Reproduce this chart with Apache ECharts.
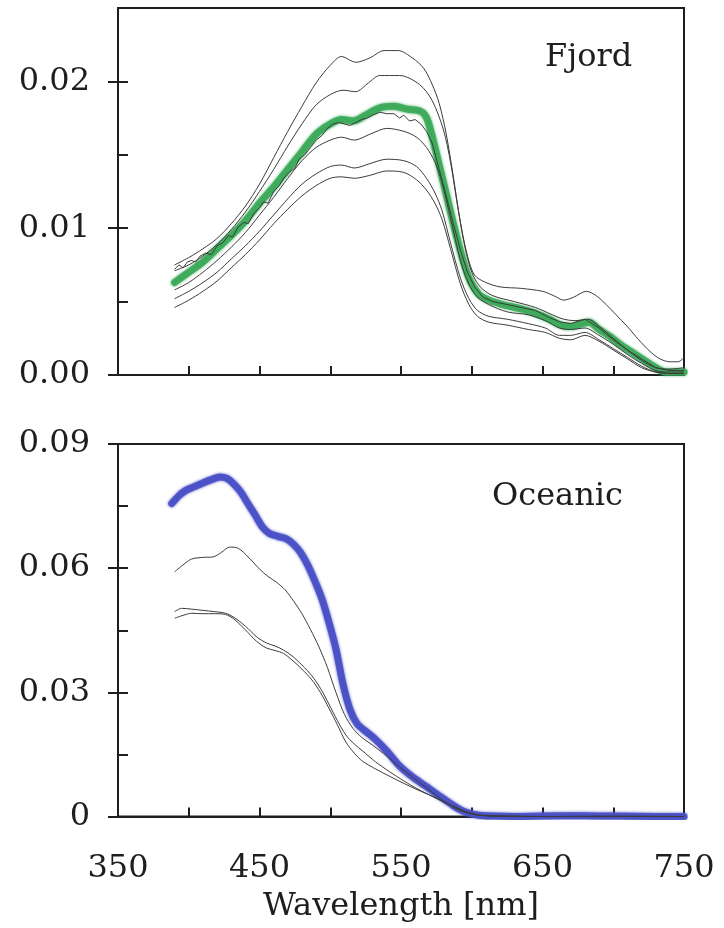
<!DOCTYPE html>
<html>
<head>
<meta charset="utf-8">
<script src="https://cdn.jsdelivr.net/npm/echarts@6/dist/echarts.min.js"></script>
<style>
  html, body { margin: 0; padding: 0; background: #ffffff; }
  #chart { width: 724px; height: 928px; }
</style>
</head>
<body>
<div id="chart"></div>
<script>
// Remote-sensing reflectance spectra, [wavelength nm, value]

// Fjord stations: mean spectrum (green) and individual stations (thin)
const fjordMean = [[390,0.0063],[400,0.0070],[410,0.0077],[420,0.0086],[430,0.0095],[440,0.0105],[450,0.0117],[460,0.0128],[470,0.0140],[480,0.0152],[490,0.0164],[500,0.0171],[508,0.0174],[516,0.0173],[525,0.0177],[535,0.0182],[545,0.0183],[555,0.0181],[563,0.0180],[567,0.0177],[570,0.0170],[577,0.0143],[584,0.0115],[591,0.0088],[598,0.0066],[605,0.0055],[612,0.0051],[622,0.0048],[635,0.0045],[645,0.0042],[655,0.0038],[663,0.0034],[670,0.0033],[678,0.0035],[683,0.0036],[690,0.0031],[698,0.0026],[706,0.0020],[714,0.0015],[722,0.0010],[730,0.0005],[737,0.0002],[745,0.0002],[750,0.0002]];

const fjordSt1 = [[390,0.0075],[400,0.0080],[410,0.0086],[420,0.0093],[430,0.0103],[440,0.0115],[450,0.0130],[460,0.0148],[470,0.0166],[480,0.0183],[490,0.0199],[500,0.0211],[508,0.0217],[518,0.0213],[528,0.0216],[538,0.0221],[548,0.0221],[558,0.0216],[566,0.0209],[572,0.0198],[577,0.0185],[582,0.0164],[587,0.0135],[592,0.0104],[597,0.0081],[602,0.0068],[610,0.0063],[620,0.0060],[635,0.0059],[650,0.0057],[658,0.0054],[665,0.0051],[672,0.0053],[681,0.0057],[688,0.0054],[695,0.0048],[702,0.0041],[710,0.0033],[718,0.0024],[726,0.0016],[733,0.0011],[740,0.0009],[746,0.0009],[750,0.0012]];

const fjordSt2 = [[390,0.0071],[400,0.0075],[410,0.0081],[420,0.0089],[430,0.0099],[440,0.0111],[450,0.0125],[460,0.0140],[470,0.0156],[480,0.0171],[490,0.0184],[500,0.0191],[509,0.0194],[518,0.0193],[527,0.0199],[535,0.0204],[549,0.0204],[563,0.0198],[572,0.0187],[580,0.0167],[585,0.0145],[590,0.0115],[595,0.0088],[600,0.0070],[606,0.0060],[615,0.0054],[630,0.0050],[645,0.0046],[657,0.0041],[665,0.0038],[673,0.0037],[682,0.0038],[690,0.0033],[700,0.0025],[710,0.0017],[720,0.0010],[730,0.0005],[740,0.0004],[750,0.0005]];

const fjordSt3 = [[390,0.0072],[393,0.0075],[396,0.0073],[399,0.0077],[402,0.0078],[405,0.0077],[408,0.0081],[412,0.0083],[416,0.0082],[420,0.0088],[424,0.0090],[428,0.0095],[431,0.0094],[435,0.0101],[439,0.0104],[442,0.0103],[446,0.0110],[450,0.0114],[453,0.0118],[456,0.0117],[460,0.0125],[464,0.0129],[467,0.0134],[471,0.0138],[475,0.0141],[478,0.0147],[482,0.0150],[486,0.0155],[490,0.0160],[494,0.0163],[498,0.0168],[502,0.0171],[506,0.0172],[510,0.0171],[514,0.0170],[518,0.0172],[522,0.0174],[526,0.0175],[530,0.0177],[535,0.0179],[540,0.0178],[545,0.0178],[549,0.0175],[552,0.0177],[556,0.0173],[560,0.0174],[564,0.0171],[568,0.0166],[572,0.0158],[577,0.0140],[582,0.0122],[587,0.0103],[592,0.0085],[597,0.0070],[602,0.0060],[608,0.0053],[615,0.0050],[630,0.0047],[645,0.0044],[655,0.0039],[663,0.0036],[670,0.0035],[680,0.0038],[690,0.0032],[700,0.0024],[710,0.0017],[720,0.0011],[730,0.0005],[740,0.0003],[750,0.0003]];

const fjordSt4 = [[390,0.0058],[400,0.0063],[410,0.0070],[420,0.0078],[430,0.0087],[440,0.0097],[450,0.0109],[460,0.0121],[470,0.0134],[480,0.0146],[490,0.0155],[500,0.0160],[508,0.0162],[517,0.0160],[528,0.0164],[540,0.0168],[552,0.0166],[561,0.0162],[568,0.0155],[574,0.0145],[579,0.0131],[585,0.0107],[592,0.0078],[598,0.0062],[604,0.0053],[612,0.0048],[625,0.0043],[640,0.0041],[652,0.0037],[662,0.0032],[670,0.0031],[680,0.0032],[690,0.0027],[700,0.0021],[710,0.0014],[720,0.0008],[730,0.0003],[740,0.0002],[750,0.0002]];

const fjordSt5 = [[390,0.0052],[400,0.0057],[410,0.0063],[420,0.0070],[430,0.0079],[440,0.0088],[450,0.0098],[460,0.0109],[470,0.0120],[480,0.0130],[490,0.0137],[500,0.0142],[508,0.0143],[517,0.0141],[528,0.0144],[540,0.0147],[552,0.0146],[561,0.0142],[568,0.0134],[574,0.0124],[579,0.0112],[585,0.0090],[592,0.0066],[598,0.0052],[604,0.0044],[612,0.0040],[625,0.0038],[640,0.0035],[652,0.0032],[662,0.0027],[670,0.0027],[680,0.0029],[690,0.0024],[700,0.0018],[710,0.0012],[720,0.0006],[730,0.0002],[740,0.0001],[750,0.0001]];

const fjordSt6 = [[390,0.0046],[400,0.0051],[410,0.0057],[420,0.0064],[430,0.0073],[440,0.0082],[450,0.0092],[460,0.0103],[470,0.0113],[480,0.0122],[490,0.0129],[500,0.0134],[508,0.0135],[517,0.0134],[528,0.0136],[540,0.0139],[552,0.0138],[561,0.0133],[568,0.0126],[574,0.0117],[579,0.0106],[585,0.0086],[592,0.0062],[598,0.0048],[604,0.0040],[612,0.0036],[625,0.0034],[640,0.0031],[652,0.0029],[662,0.0025],[670,0.0024],[680,0.0027],[690,0.0023],[700,0.0017],[710,0.0011],[720,0.0005],[730,0.0002],[740,0.0001],[750,0.0001]];

// Oceanic stations: mean spectrum (blue) and individual stations (thin)
const oceanicMean = [[388,0.0756],[393,0.0775],[398,0.0788],[404,0.0797],[410,0.0806],[416,0.0814],[422,0.0820],[427,0.0817],[432,0.0803],[437,0.0783],[442,0.0755],[447,0.0728],[452,0.0700],[457,0.0684],[463,0.0677],[469,0.0671],[474,0.0658],[479,0.0638],[484,0.0608],[489,0.0570],[494,0.0527],[499,0.0470],[504,0.0405],[509,0.0320],[514,0.0258],[519,0.0224],[525,0.0206],[532,0.0186],[540,0.0158],[549,0.0122],[558,0.0096],[568,0.0072],[577,0.0050],[585,0.0031],[592,0.0016],[598,0.0008],[605,0.0003],[615,0.0001],[630,0.0000],[650,0.0001],[680,0.0002],[700,0.0001],[730,0.0000],[750,0.0000]];

const oceanicSt1 = [[390,0.0591],[396,0.0608],[402,0.0622],[410,0.0626],[417,0.0627],[423,0.0638],[429,0.0651],[435,0.0648],[442,0.0627],[450,0.0598],[456,0.0580],[462,0.0566],[468,0.0548],[474,0.0521],[480,0.0490],[486,0.0452],[492,0.0410],[498,0.0360],[504,0.0300],[510,0.0247],[516,0.0213],[522,0.0192],[530,0.0172],[540,0.0146],[550,0.0117],[560,0.0090],[570,0.0064],[580,0.0038],[590,0.0017],[600,0.0006],[610,0.0002],[620,0.0001],[650,0.0000],[700,0.0000],[750,0.0000]];

const oceanicSt2 = [[390,0.0495],[395,0.0503],[402,0.0501],[410,0.0498],[418,0.0495],[426,0.0491],[432,0.0481],[440,0.0460],[448,0.0434],[455,0.0419],[461,0.0412],[467,0.0402],[473,0.0388],[480,0.0366],[487,0.0340],[493,0.0310],[499,0.0272],[505,0.0232],[511,0.0197],[517,0.0175],[523,0.0158],[532,0.0132],[542,0.0108],[552,0.0086],[562,0.0066],[572,0.0049],[581,0.0034],[590,0.0020],[598,0.0009],[606,0.0003],[620,0.0001],[650,0.0000],[700,0.0001],[750,0.0000]];

const oceanicSt3 = [[390,0.0479],[396,0.0486],[402,0.0491],[410,0.0490],[418,0.0490],[426,0.0488],[432,0.0477],[440,0.0451],[448,0.0423],[455,0.0407],[461,0.0401],[467,0.0394],[473,0.0378],[480,0.0356],[487,0.0330],[493,0.0300],[499,0.0262],[505,0.0222],[511,0.0180],[517,0.0153],[523,0.0133],[532,0.0115],[542,0.0097],[552,0.0080],[562,0.0064],[572,0.0049],[581,0.0034],[590,0.0020],[598,0.0009],[606,0.0003],[620,0.0001],[650,0.0000],[700,0.0000],[750,0.0000]];

// Axis ticks and labels
const wavelengthLabels = [350, 450, 550, 650, 750];
const fjordTicks = [0, 0.01, 0.02];
const oceanicTicks = [0, 0.03, 0.06, 0.09];
const panelNames = ['Fjord', 'Oceanic'];
const axisTitle = 'Wavelength [nm]';

const FONT = 'DejaVu Serif';
const INK = '#1e1e1e';
const THIN = '#3c3c3c';

const chart = echarts.init(document.getElementById('chart'), null, { renderer: 'canvas' });

function thinSeries(data, xi) {
  return {
    type: 'line', data: data, xAxisIndex: xi, yAxisIndex: xi * 2,
    showSymbol: false, smooth: 0.3, z: 5,
    lineStyle: { color: THIN, width: 1 }, silent: true
  };
}

function meanSeries(data, xi, color) {
  return {
    type: 'line', data: data, xAxisIndex: xi, yAxisIndex: xi * 2,
    showSymbol: false, smooth: 0.3, z: 3,
    lineStyle: { color: color, width: 7, opacity: 0.92, cap: 'round', join: 'round',
                 shadowColor: color, shadowBlur: 3 },
    silent: true
  };
}

function xAxisDef(gridIndex, showLabels) {
  return {
    type: 'value', gridIndex: gridIndex, min: 350, max: 750, interval: 50,
    axisLine: { lineStyle: { color: INK, width: 2 } },
    axisTick: { inside: true, length: 9, lineStyle: { color: INK, width: 2 } },
    splitLine: { show: false },
    axisLabel: {
      show: showLabels, customValues: wavelengthLabels, margin: 36,
      fontFamily: FONT, fontSize: 32, color: INK
    },
    name: showLabels ? axisTitle : '',
    nameLocation: 'middle', nameGap: 74,
    nameTextStyle: { fontFamily: FONT, fontSize: 32, color: INK }
  };
}

// Labelled axis: major ticks pointing outward
function yAxisOuter(gridIndex, max, ticks, fmt) {
  return {
    type: 'value', gridIndex: gridIndex, position: 'left', min: 0, max: max,
    axisLine: { show: true, lineStyle: { color: INK, width: 2 } },
    axisTick: { inside: false, length: 10, customValues: ticks, lineStyle: { color: INK, width: 2 } },
    splitLine: { show: false },
    axisLabel: { customValues: ticks, formatter: fmt, margin: 28,
                 fontFamily: FONT, fontSize: 32, color: INK }
  };
}

// Companion axis on the same side: major and half-step ticks pointing inward
function yAxisInner(gridIndex, max, interval) {
  return {
    type: 'value', gridIndex: gridIndex, position: 'left', offset: 0,
    min: 0, max: max, interval: interval,
    axisLine: { show: false },
    axisTick: { inside: true, length: 10, lineStyle: { color: INK, width: 2 } },
    splitLine: { show: false },
    axisLabel: { show: false }
  };
}

const option = {
  animation: false,
  backgroundColor: '#ffffff',
  grid: [
    { left: 118, top: 8, width: 566, height: 367, show: true,
      borderColor: INK, borderWidth: 2, backgroundColor: 'transparent' },
    { left: 118, top: 444, width: 566, height: 372.5, show: true,
      borderColor: INK, borderWidth: 2, backgroundColor: 'transparent' }
  ],
  xAxis: [ xAxisDef(0, false), xAxisDef(1, true) ],
  yAxis: [
    yAxisOuter(0, 0.025, fjordTicks, v => v.toFixed(2)),
    yAxisInner(0, 0.025, 0.005),
    yAxisOuter(1, 0.09, oceanicTicks, v => (v === 0 ? '0' : v.toFixed(2))),
    yAxisInner(1, 0.09, 0.015)
  ],
  graphic: [
    { type: 'text', left: 545, top: 42,
      style: { text: panelNames[0], font: '32px "' + FONT + '"', fill: INK } },
    { type: 'text', left: 492, top: 481,
      style: { text: panelNames[1], font: '32px "' + FONT + '"', fill: INK } }
  ],
  series: [
    meanSeries(fjordMean, 0, '#3daa5a'),
    thinSeries(fjordSt1, 0),
    thinSeries(fjordSt2, 0),
    Object.assign(thinSeries(fjordSt3, 0), { smooth: false }),
    thinSeries(fjordSt4, 0),
    thinSeries(fjordSt5, 0),
    thinSeries(fjordSt6, 0),
    meanSeries(oceanicMean, 1, '#4a50c6'),
    thinSeries(oceanicSt1, 1),
    thinSeries(oceanicSt2, 1),
    thinSeries(oceanicSt3, 1)
  ]
};

chart.setOption(option);
</script>
</body>
</html>
